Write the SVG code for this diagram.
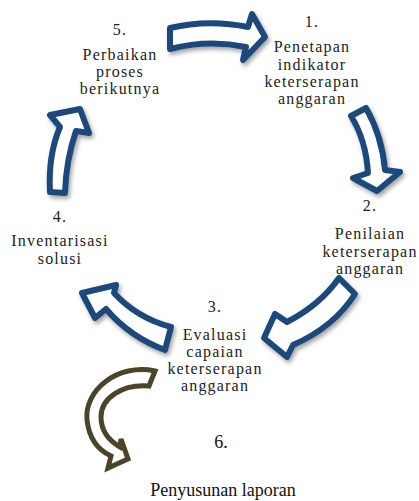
<svg xmlns="http://www.w3.org/2000/svg" width="419" height="501" viewBox="0 0 419 501">
<style>
.t{font-family:"Liberation Serif","Times New Roman",serif;font-size:16px;fill:#222;text-anchor:middle;letter-spacing:1.2px}
.t6{font-family:"Liberation Serif","Times New Roman",serif;font-size:18px;fill:#111;text-anchor:middle}
.ab{fill:#fff;stroke:#1f4a7c;stroke-width:6;stroke-linejoin:round;filter:url(#sh)}
.ag{fill:#fff;stroke:#4b4428;stroke-width:5;stroke-linejoin:miter}
</style>
<defs>
<filter id="sh" x="-20%" y="-20%" width="150%" height="150%">
<feDropShadow dx="2" dy="3" stdDeviation="2" flood-color="#000" flood-opacity="0.35"/>
</filter>
</defs>
<rect width="419" height="501" fill="#fff"/>
<g id="connectors">
<path id="a51" class="ab" d="M170,28 Q208,19 248,27 L252,14 L265,37 L243,60 L246,47 Q208,39 170,49 Z"/>
<path id="a12" class="ab" d="M351,116 L366,108 Q382,136 385,170 L400,172 L377,191 L353,178 L368,173 Q366,140 351,116 Z"/>
<path id="a23" class="ab" d="M339,278 Q320,305 287,322 L275,314 L264,338 L287,357 L293,345 Q334,327 355,294 Z"/>
<path id="a34" class="ab" d="M171,327 Q137,318 114,293 L116,285 L82,293 L95,318 L106,309 Q130,337 165,350 Z"/>
<path id="a45" class="ab" d="M50,192 Q48,155 60,127 L50,115 L80,109 L89,133 L76,131 Q66,160 65,193 Z"/>
<path id="a36" class="ag" d="M155,371 C118,363 84,390 87,420 C89,438 98,450 111,456 L108,468 L128,459 L121,439 L120,447 C108,440 101,430 101,417 C101,398 122,384 149,386 Z"/>
</g>
<g id="n1">
<text class="t" x="312" y="27">1.</text>
<text class="t" x="312" y="52">Penetapan</text>
<text class="t" x="312" y="70">indikator</text>
<text class="t" x="312" y="87">keterserapan</text>
<text class="t" x="312" y="104">anggaran</text>
</g>
<g id="n2">
<text class="t" x="370" y="211">2.</text>
<text class="t" x="370" y="239">Penilaian</text>
<text class="t" x="370" y="257">keterserapan</text>
<text class="t" x="370" y="274">anggaran</text>
</g>
<g id="n3">
<text class="t" x="215" y="312">3.</text>
<text class="t" x="215" y="340">Evaluasi</text>
<text class="t" x="215" y="357">capaian</text>
<text class="t" x="215" y="374">keterserapan</text>
<text class="t" x="215" y="391">anggaran</text>
</g>
<g id="n4">
<text class="t" x="60" y="222">4.</text>
<text class="t" x="60" y="246">Inventarisasi</text>
<text class="t" x="60" y="264">solusi</text>
</g>
<g id="n5">
<text class="t" x="120" y="35">5.</text>
<text class="t" x="120" y="60">Perbaikan</text>
<text class="t" x="120" y="77">proses</text>
<text class="t" x="120" y="94">berikutnya</text>
</g>
<g id="n6">
<text class="t6" x="221" y="448">6.</text>
<text class="t6" x="223" y="496">Penyusunan laporan</text>
</g>
</svg>
